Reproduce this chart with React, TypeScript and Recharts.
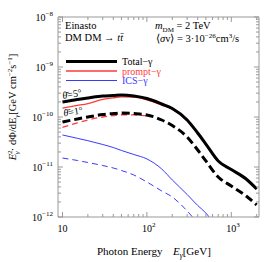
import React from "react";
import { LineChart, Line, XAxis, YAxis } from "recharts";

// photon energy [GeV]
const energy = [10, 15, 20, 30, 40, 50, 70, 100, 150, 200, 300, 400, 500, 700, 1000, 1500, 2000];

// theta = 5 deg (solid)
const total5 = [2.0e-10, 2.24e-10, 2.4e-10, 2.63e-10, 2.69e-10, 2.75e-10, 2.63e-10, 2.34e-10, 1.82e-10, 1.48e-10, 8.71e-11, 4.79e-11, 2.88e-11, 1.32e-11, 8.91e-12, 5.75e-12, 3.63e-12];
const prompt5 = [1.51e-10, 1.7e-10, 1.86e-10, 2.25e-10, 2.42e-10, 2.52e-10, 2.5e-10, 2.2e-10, 1.73e-10, 1.43e-10, 8.43e-11, 4.62e-11, 2.76e-11, 1.3e-11, 8.85e-12, 5.72e-12, 3.61e-12];
const ics5 = [4.37e-11, 3.75e-11, 3.36e-11, 2.82e-11, 2.45e-11, 2.14e-11, 1.78e-11, 1.45e-11, 9.12e-12, 5.5e-12, 2.82e-12, 1.7e-12, 1.2e-12, 5.5e-13, null, null, null];

// theta = 1 deg (dashed); prompt part hidden under the total curve above ~100 GeV
const total1 = [7.94e-11, 9.12e-11, 1.0e-10, 1.12e-10, 1.17e-10, 1.2e-10, 1.17e-10, 1.1e-10, 8.71e-11, 6.76e-11, 3.98e-11, 2.19e-11, 1.32e-11, 6.31e-12, 4.17e-12, 2.63e-12, 1.74e-12];
const prompt1 = [6.2e-11, 7.6e-11, 8.7e-11, 1.0e-10, 1.07e-10, 1.11e-10, 1.1e-10, 1.05e-10, null, null, null, null, null, null, null, null, null];
const ics1 = [1.51e-11, 1.35e-11, 1.23e-11, 1.07e-11, 9.55e-12, 8.51e-12, 6.92e-12, 5.01e-12, 3.31e-12, 2.51e-12, 1.32e-12, 7.5e-13, null, null, null, null, null];

const xMajor = [10, 100, 1000];
const xMajorLabels = ["10", "10", "10"];
const xMajorSup = ["", "2", "3"];
const xMinor = [20, 30, 40, 50, 60, 70, 80, 90, 200, 300, 400, 500, 600, 700, 800, 900, 2000];
const yDecades = [-12, -11, -10, -9, -8];
const yMinorMult = [2, 3, 4, 5, 6, 7, 8, 9];

const data = energy.map((e, i) => ({
  e,
  total5: total5[i],
  prompt5: prompt5[i],
  ics5: ics5[i],
  total1: total1[i],
  prompt1: prompt1[i],
  ics1: ics1[i],
}));

const xTicks = [...xMajor, ...xMinor].sort((a, b) => a - b);
const yTicks: number[] = [];
yDecades.forEach((d) => {
  yTicks.push(Math.pow(10, d));
  if (d < -8) yMinorMult.forEach((m) => yTicks.push(m * Math.pow(10, d)));
});

const FRAME = "#999";
const FONT = "'Liberation Serif', 'Times New Roman', serif";
const RED = "#ff3a3a";
const BLUE = "#3a3aff";

const isYMajor = (v: number) => Math.abs(Math.log10(v) - Math.round(Math.log10(v))) < 1e-6;

function BottomTick(props: any) {
  const { x, y, payload } = props;
  const idx = xMajor.indexOf(payload.value);
  const major = idx >= 0;
  return (
    <g>
      <line x1={x} x2={x} y1={y} y2={y - (major ? 5 : 3)} stroke={FRAME} />
      {major && (
        <text x={x} y={y + 15} textAnchor="middle" fontSize={10} fontFamily={FONT} fill="#000">
          {xMajorLabels[idx]}
        </text>
      )}
      {major && xMajorSup[idx] && (
        <text x={x + 5} y={y + 10} fontSize={7} fontFamily={FONT} fill="#000">
          {xMajorSup[idx]}
        </text>
      )}
    </g>
  );
}

function TopTick(props: any) {
  const { x, y, payload } = props;
  const major = xMajor.includes(payload.value);
  return <line x1={x} x2={x} y1={y} y2={y + (major ? 5 : 3)} stroke={FRAME} />;
}

function LeftTick(props: any) {
  const { x, y, payload } = props;
  const major = isYMajor(payload.value);
  const exp = Math.round(Math.log10(payload.value));
  return (
    <g>
      <line x1={x} x2={x + (major ? 5 : 3)} y1={y} y2={y} stroke={FRAME} />
      {major && (
        <text x={x - 5} y={y + 3.5} textAnchor="end" fontSize={10} fontFamily={FONT} fill="#000">
          10
          <tspan dy={-4.5} fontSize={7}>{`\u2212${-exp}`}</tspan>
        </text>
      )}
    </g>
  );
}

function RightTick(props: any) {
  const { x, y, payload } = props;
  const major = isYMajor(payload.value);
  return <line x1={x} x2={x - (major ? 5 : 3)} y1={y} y2={y} stroke={FRAME} />;
}

export default function App() {
  const xDomain = [8.85, 2130];
  const yDomain = [1e-12, 1e-8];
  return (
    <div style={{ position: "absolute", left: 0, top: 0, width: 266, height: 262, background: "#fff" }}>
      <LineChart width={266} height={262} data={data} margin={{ top: 0, right: 0, bottom: 0, left: 0 }}>
        <XAxis
          xAxisId="b"
          dataKey="e"
          type="number"
          scale="log"
          domain={xDomain}
          allowDataOverflow
          ticks={xTicks}
          interval={0}
          tick={<BottomTick />}
          tickLine={false}
          tickSize={0}
          tickMargin={0}
          axisLine={{ stroke: FRAME }}
          height={45}
        />
        <XAxis
          xAxisId="t"
          orientation="top"
          dataKey="e"
          type="number"
          scale="log"
          domain={xDomain}
          allowDataOverflow
          ticks={xTicks}
          interval={0}
          tick={<TopTick />}
          tickLine={false}
          tickSize={0}
          tickMargin={0}
          axisLine={{ stroke: FRAME }}
          height={17}
        />
        <YAxis
          yAxisId="l"
          type="number"
          scale="log"
          domain={yDomain}
          allowDataOverflow
          ticks={yTicks}
          interval={0}
          tick={<LeftTick />}
          tickLine={false}
          tickSize={0}
          tickMargin={0}
          axisLine={{ stroke: FRAME }}
          width={58}
        />
        <YAxis
          yAxisId="r"
          orientation="right"
          type="number"
          scale="log"
          domain={yDomain}
          allowDataOverflow
          ticks={yTicks}
          interval={0}
          tick={<RightTick />}
          tickLine={false}
          tickSize={0}
          tickMargin={0}
          axisLine={{ stroke: FRAME }}
          width={7}
        />
        <Line xAxisId="b" yAxisId="l" dataKey="prompt5" type="monotone" stroke={RED} strokeWidth={1.3} dot={false} isAnimationActive={false} />
        <Line xAxisId="b" yAxisId="l" dataKey="prompt1" type="monotone" stroke={RED} strokeWidth={1.3} strokeDasharray="6 4" dot={false} isAnimationActive={false} />
        <Line xAxisId="b" yAxisId="l" dataKey="ics5" type="monotone" stroke={BLUE} strokeWidth={1} dot={false} isAnimationActive={false} />
        <Line xAxisId="b" yAxisId="l" dataKey="ics1" type="monotone" stroke={BLUE} strokeWidth={1} strokeDasharray="6 4" dot={false} isAnimationActive={false} />
        <Line xAxisId="b" yAxisId="l" dataKey="total5" type="monotone" stroke="#000" strokeWidth={3} dot={false} isAnimationActive={false} />
        <Line xAxisId="b" yAxisId="l" dataKey="total1" type="monotone" stroke="#000" strokeWidth={3} strokeDasharray="8 4" dot={false} isAnimationActive={false} />
      </LineChart>
      <svg width={266} height={262} style={{ position: "absolute", left: 0, top: 0, pointerEvents: "none" }} fontFamily={FONT}>
        {/* y axis label */}
        <text transform="translate(16,107) rotate(-90)" textAnchor="middle" fontSize={10.5} fill="#000">
          <tspan fontStyle="italic">E</tspan>
          <tspan dy={-4} fontSize={7}>2</tspan>
          <tspan dx={-3.5} dy={7} fontSize={7} fontStyle="italic">γ</tspan>
          <tspan dy={-3}>· dΦ/dE</tspan>
          <tspan dy={2.5} fontSize={7} fontStyle="italic">γ</tspan>
          <tspan dy={-2.5}>[GeV cm</tspan>
          <tspan dy={-4} fontSize={7}>−2</tspan>
          <tspan dy={4}>s</tspan>
          <tspan dy={-4} fontSize={7}>−1</tspan>
          <tspan dy={4}>]</tspan>
        </text>
        {/* x axis label */}
        <text x={97} y={255} fontSize={11} fill="#000">Photon Energy</text>
        <text x={173} y={255} fontSize={11} fill="#000">
          <tspan fontStyle="italic">E</tspan>
          <tspan dy={2.5} fontSize={7.5} fontStyle="italic">γ</tspan>
          <tspan dy={-2.5}>[GeV]</tspan>
        </text>
        {/* info texts */}
        <text x={65} y={29} fontSize={10.5} fill="#000">Einasto</text>
        <text x={65} y={41} fontSize={10.5} fill="#000">
          DM DM → <tspan fontStyle="italic">tt̄</tspan>
        </text>
        <text x={155} y={29} fontSize={10.5} fill="#000">
          <tspan fontStyle="italic">m</tspan>
          <tspan dy={2.5} fontSize={7}>DM</tspan>
          <tspan dy={-2.5}> = 2 TeV</tspan>
        </text>
        <text x={156} y={41.5} fontSize={10.5} fill="#000">
          ⟨<tspan fontStyle="italic">σ</tspan>v⟩ = 3·10
          <tspan dy={-4} fontSize={7}>−26</tspan>
          <tspan dy={4}>cm</tspan>
          <tspan dy={-4} fontSize={7}>3</tspan>
          <tspan dy={4}>/s</tspan>
        </text>
        {/* legend */}
        <line x1={66} x2={117} y1={61.5} y2={61.5} stroke="#000" strokeWidth={3} />
        <line x1={66} x2={117} y1={71} y2={71} stroke={RED} strokeWidth={1.3} />
        <line x1={66} x2={117} y1={80.5} y2={80.5} stroke={BLUE} strokeWidth={1} />
        <text x={122} y={65} fontSize={10} fill="#000">Total−γ</text>
        <text x={122} y={74.5} fontSize={10} fill={RED}>prompt−γ</text>
        <text x={122} y={84} fontSize={10} fill={BLUE}>ICS−γ</text>
        {/* angle annotations */}
        <text transform="translate(63,99) rotate(-10)" fontSize={10} fill="#000">
          <tspan fontStyle="italic">θ̄</tspan>=5°
        </text>
        <text transform="translate(64,116.5) rotate(-9)" fontSize={10} fill="#000">
          <tspan fontStyle="italic">θ̄</tspan>=1°
        </text>
      </svg>
    </div>
  );
}
